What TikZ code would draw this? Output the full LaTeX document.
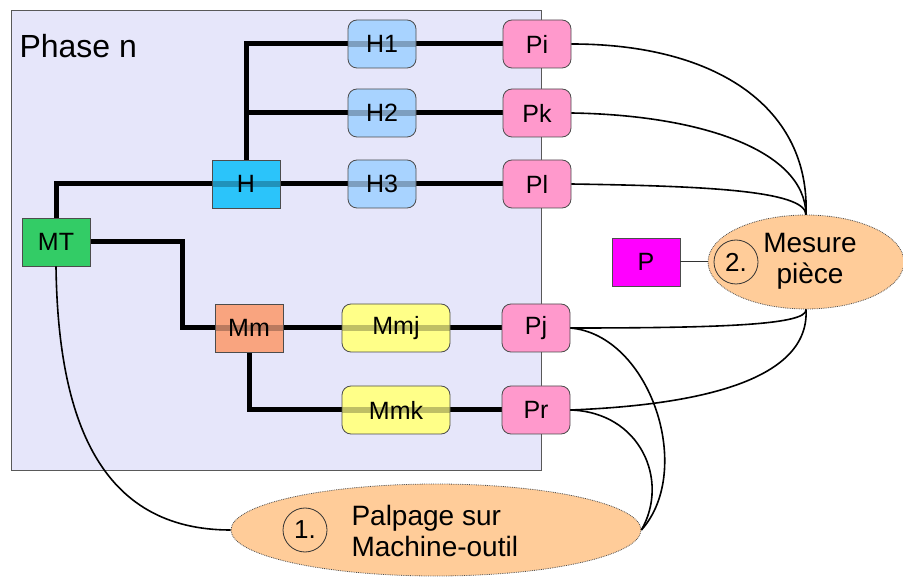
\documentclass[tikz,border=0pt]{standalone}
\usepackage{fontspec}
\setmainfont{Liberation Sans}
\usetikzlibrary{shapes.geometric,backgrounds}
\definecolor{framec}{HTML}{E6E6FA}
\definecolor{mtc}{HTML}{33CC66}
\definecolor{hc}{HTML}{2BC4FA}
\definecolor{hic}{HTML}{A8D3FF}
\definecolor{pc}{HTML}{FF99CC}
\definecolor{mmc}{HTML}{F9A47F}
\definecolor{yc}{HTML}{FFFF88}
\definecolor{ovalc}{HTML}{FFCC99}
\definecolor{magc}{HTML}{FF00FF}
\begin{document}
\begin{tikzpicture}[x=1pt,y=-1pt,
  box/.style={draw=black!70, line width=0.8pt,
    minimum width=68pt, minimum height=48pt, inner sep=0pt,
    font=\fontsize{25}{30}\selectfont},
  rbox/.style={box, rounded corners=9pt},
  band/.style={path picture={\fill[black, fill opacity=0.25, sharp corners]
      ([yshift=-2.6pt]path picture bounding box.west) rectangle
      ([yshift=2.6pt]path picture bounding box.east);}},
  wire/.style={line width=5pt},
  link/.style={line width=1.6pt},
  oval/.style={ellipse, draw=black!70, densely dotted, fill=ovalc, line width=0.8pt, inner sep=0pt},
  numc/.style={circle, draw=black!80, line width=0.8pt, minimum size=44pt, inner sep=0pt,
    font=\fontsize{26}{30}\selectfont},
  otext/.style={font=\fontsize{28}{31}\selectfont}
]
\useasboundingbox (0,0) rectangle (903,577);

% nodes
\node[box, fill=mtc] (MT) at (56,242) {MT};
\node[box, band, fill=hc] (H) at (246,184) {H};
\node[rbox, band, fill=hic] (H1) at (382,44) {H1};
\node[rbox, band, fill=hic] (H2) at (382,113) {H2};
\node[rbox, band, fill=hic] (H3) at (382,184) {H3};
\node[rbox, fill=pc] (Pi) at (537,44) {Pi};
\node[rbox, fill=pc] (Pk) at (537,113) {Pk};
\node[rbox, fill=pc] (Pl) at (537,184) {Pl};
\node[box, band, fill=mmc] (Mm) at (249,328) {Mm};
\node[rbox, band, fill=yc, minimum width=108pt] (Mmj) at (396,328) {Mmj};
\node[rbox, band, fill=yc, minimum width=108pt] (Mmk) at (396,410) {Mmk};
\node[rbox, fill=pc] (Pj) at (536,328) {Pj};
\node[rbox, fill=pc] (Pr) at (536,410) {Pr};
\node[box, fill=magc] (P) at (646,262) {P};

\node[oval, minimum width=196pt, minimum height=94pt] (E2) at (806,262) {};
\node[oval, minimum width=410pt, minimum height=92pt] (E1) at (436,530) {};
\node[numc] (c2) at (736,262) {2.};
\node[numc] (c1) at (305,530) {1.};
\node[otext, align=center] (t2) at (810,261) {Mesure\\pièce};
\node[otext, align=left, anchor=west] (t1) at (348,531) {Palpage sur\\Machine-outil};

\node[anchor=west, font=\fontsize{32}{36}\selectfont] (title) at (16,46) {Phase n};

\begin{scope}[on background layer]
  \fill[framec] (11,10) rectangle (541,470);
  \draw[black!65, line width=0.9pt] (11,10) rectangle (541,470);
  \draw[wire] (MT.north) |- (Pl.west);
  \draw[wire] (H.north) |- (Pi.west);
  \draw[wire] (H.north |- Pk.west) -- (Pk.west);
  \draw[wire] (MT.east) -- ++(92,0) |- (Pj.west);
  \draw[wire] (Mm.south) |- (Pr.west);
\end{scope}

% links
\draw[link] (Pi.east) .. controls (720,44) and (810,110) .. (E2.north);
\draw[link] (Pk.east) .. controls (700,115) and (805,150) .. (E2.north);
\draw[link] (Pl.east) .. controls (700,186) and (805,190) .. (E2.north);
\draw[link] (Pj.east) .. controls (720,328) and (808,325) .. (E2.south);
\draw[link] (Pr.east) .. controls (700,405) and (810,380) .. (E2.south);
\draw[link] (Pj.east) .. controls (650,335) and (695,470) .. (E1.east);
\draw[link] (Pr.east) .. controls (640,412) and (670,480) .. (E1.east);
\draw[link] (MT.south) .. controls (58,420) and (100,530) .. (E1.west);
\draw[line width=1pt, black!80] (P.east) -- (E2.west);
\end{tikzpicture}
\end{document}
